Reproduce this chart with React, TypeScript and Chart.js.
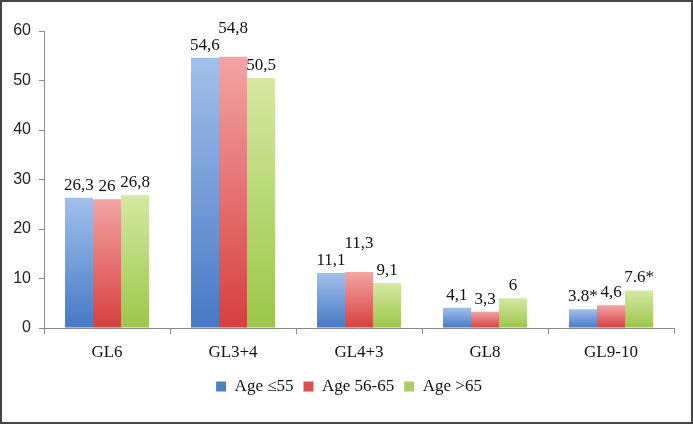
import React, { useEffect, useRef } from "react";
import { Chart, registerables } from "chart.js";

Chart.register(...registerables);

const categories = ["GL6", "GL3+4", "GL4+3", "GL8", "GL9-10"];
const seriesNames = ["Age ≤55", "Age 56-65", "Age >65"];
const ageLe55 = [26.3, 54.6, 11.1, 4.1, 3.8];
const age56to65 = [26, 54.8, 11.3, 3.3, 4.6];
const ageGt65 = [26.8, 50.5, 9.1, 6, 7.6];
const labelsLe55 = ["26,3", "54,6", "11,1", "4,1", "3.8*"];
const labels56to65 = ["26", "54,8", "11,3", "3,3", "4,6"];
const labelsGt65 = ["26,8", "50,5", "9,1", "6", "7.6*"];
const yTicks = [0, 10, 20, 30, 40, 50, 60];

const SERIF = "'Liberation Serif', 'Times New Roman', serif";
const SANS = "'Liberation Sans', Arial, sans-serif";

function gradientFill(top: string, bottom: string, solid: string) {
  return (ctx: any) => {
    const chart = ctx.chart;
    const y = chart.scales && chart.scales.y;
    if (!y || ctx.raw === undefined || ctx.raw === null) return solid;
    const yTop = y.getPixelForValue(ctx.raw);
    const yBot = y.getPixelForValue(0);
    if (!isFinite(yTop) || !isFinite(yBot) || yTop === yBot) return solid;
    const g = chart.ctx.createLinearGradient(0, yTop, 0, yBot);
    g.addColorStop(0, top);
    g.addColorStop(1, bottom);
    return g;
  };
}

const legendShiftPlugin = {
  id: "legendShift",
  afterLayout(chart: any) {
    const lg = chart.legend;
    if (lg) {
      lg.left += 11;
      lg.right += 11;
    }
  },
};

const valueLabelPlugin = {
  id: "valueLabels",
  afterDatasetsDraw(chart: any) {
    const ctx = chart.ctx;
    ctx.save();
    ctx.font = `17px ${SERIF}`;
    ctx.fillStyle = "#111";
    ctx.textAlign = "center";
    ctx.textBaseline = "bottom";
    const h = 15;
    const n = chart.data.labels.length;
    for (let j = 0; j < n; j++) {
      let prev: any = null;
      chart.data.datasets.forEach((ds: any, i: number) => {
        const bar: any = chart.getDatasetMeta(i).data[j];
        const text = ds.valueLabels[j];
        const w = ctx.measureText(text).width;
        let bottom = bar.y - 4;
        const left = bar.x - w / 2;
        const right = bar.x + w / 2;
        if (prev && left < prev.right + 2 && bottom > prev.bottom - h && bottom - h < prev.bottom) {
          bottom = prev.bottom - h - 2;
        }
        ctx.fillText(text, bar.x, bottom);
        prev = { left, right, bottom };
      });
    }
    ctx.restore();
  },
};

export default function App() {
  const ref = useRef<HTMLCanvasElement | null>(null);
  useEffect(() => {
    document.body.style.margin = "0";
    const chart = new Chart(ref.current as HTMLCanvasElement, {
      type: "bar",
      data: {
        labels: categories,
        datasets: [
          {
            label: seriesNames[0],
            data: ageLe55,
            valueLabels: labelsLe55,
            backgroundColor: gradientFill("#a2c0ea", "#4679c6", "#4f81bd"),
          } as any,
          {
            label: seriesNames[1],
            data: age56to65,
            valueLabels: labels56to65,
            backgroundColor: gradientFill("#f3a4a4", "#d63f3f", "#c0504d"),
          } as any,
          {
            label: seriesNames[2],
            data: ageGt65,
            valueLabels: labelsGt65,
            backgroundColor: gradientFill("#d5e8a2", "#9cc649", "#9bbb59"),
          } as any,
        ],
      },
      options: {
        animation: false,
        responsive: false,
        maintainAspectRatio: false,
        layout: { padding: { top: 29, right: 17, bottom: 17, left: 0 } },
        datasets: { bar: { barPercentage: 1, categoryPercentage: 0.667 } },
        plugins: {
          tooltip: { enabled: false },
          legend: {
            position: "bottom",
            labels: {
              font: { family: SERIF, size: 17 },
              color: "#111",
              boxWidth: 10,
              boxHeight: 10,
              padding: 10,
              generateLabels: () =>
                seriesNames.map((n, i) => ({
                  text: n,
                  fillStyle: ["#4f81bd", "#d9504d", "#a8cc62"][i],
                  strokeStyle: "rgba(0,0,0,0)",
                  lineWidth: 0,
                  datasetIndex: i,
                  hidden: false,
                  fontColor: "#111",
                })),
            },
          },
        },
        scales: {
          x: {
            grid: {
              display: true,
              drawOnChartArea: false,
              drawTicks: true,
              tickLength: 6,
              color: "#8a8a8a",
              offset: true,
            },
            border: { display: true, color: "#8a8a8a", width: 1 },
            ticks: {
              font: { family: SERIF, size: 17 },
              color: "#111",
              padding: 8,
            },
            afterFit: (s: any) => {
              s.height = 40;
            },
          },
          y: {
            min: 0,
            max: 60,
            afterBuildTicks: (s: any) => {
              s.ticks = yTicks.map((v) => ({ value: v }));
            },
            grid: {
              display: true,
              drawOnChartArea: false,
              drawTicks: true,
              tickLength: 5,
              color: "#8a8a8a",
            },
            border: { display: true, color: "#8a8a8a", width: 1 },
            ticks: {
              font: { family: SANS, size: 16 },
              color: "#222",
              padding: 8,
            },
            afterFit: (s: any) => {
              s.width = 42;
            },
          },
        },
      } as any,
      plugins: [valueLabelPlugin, legendShiftPlugin],
    });
    return () => chart.destroy();
  }, []);
  return (
    <div
      style={{
        position: "fixed",
        left: 0,
        top: 0,
        width: 693,
        height: 424,
        boxSizing: "border-box",
        border: "2px solid #454545",
        background: "#fff",
      }}
    >
      <canvas ref={ref} width={689} height={420} style={{ display: "block" }} />
    </div>
  );
}
